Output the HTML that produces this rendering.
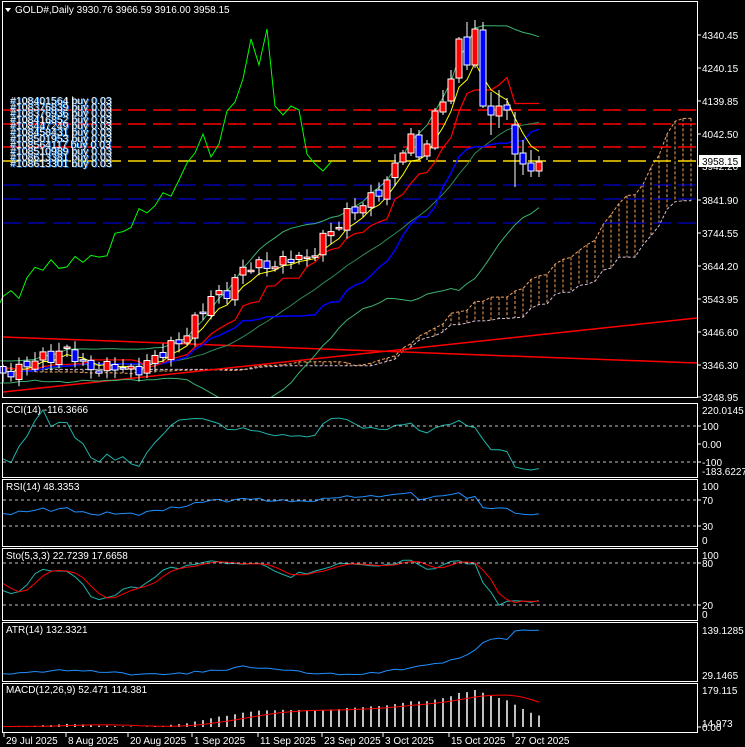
<!DOCTYPE html>
<html><head><meta charset="utf-8">
<style>
html,body{margin:0;padding:0;background:#000;}
body{width:745px;height:747px;overflow:hidden;}
svg{display:block;font-family:"Liberation Sans",sans-serif;}
</style></head>
<body>
<svg id="c" width="745" height="747" xmlns="http://www.w3.org/2000/svg"></svg>
<script>
const S=document.getElementById('c');
let out='';
function add(s){out+=s;}
const K=0.3317, P0=3248.95;
const p2y=p=>397-(p-P0)*K, y2p=y=>P0+(397-y)/K;
const kp=[[-60,372],[-40,365],[-20,378],[-5,368],[0,370],[2,372],[5,355],[8,352],[10,365],[13,368],[16,370],[18,362],[20,355],[22,340],[24,320],[26,300],[28,290],[30,268],[32,268],[34,262],[36,258],[38,262],[40,235],[42,225],[44,210],[46,195],[48,185],[49,168],[50,153]];
function interp(i){for(let k=0;k<kp.length-1;k++){if(i>=kp[k][0]&&i<=kp[k+1][0]){const t=(i-kp[k][0])/(kp[k+1][0]-kp[k][0]);return kp[k][1]+t*(kp[k+1][1]-kp[k][1]);}}return 370;}
const ex={50:[162,153,150,165],51:[153,134,128,156],52:[135,157,130,160],53:[156,144,140,160],54:[148,111,108,150],55:[112,102,90,115],56:[101,79,70,104],57:[78,39,37,83],58:[37,65,22,70],59:[65,29,20,68],60:[30,106,22,108],61:[106,115,92,135],62:[116,106,90,128],63:[105,110,98,120],64:[125,154,112,187],65:[153,164,140,175],66:[163,171,150,177],67:[171,162,156,177]};
const bars=[];let prev=370;
for(let i=-60;i<=67;i++){let o,c,h,l;
 if(ex[i]){[o,c,h,l]=ex[i];}
 else{c=interp(i)+Math.sin(i*2.3)*6+Math.cos(i*1.1)*3;o=prev+Math.sin(i*3.7)*3;
  h=Math.min(o,c)-2-Math.abs(Math.sin(i*5.1))*7;l=Math.max(o,c)+2+Math.abs(Math.cos(i*4.3))*7;}
 prev=c;bars.push({i,o:y2p(o),c:y2p(c),h:y2p(h),l:y2p(l)});}
const N=bars.length, off=60;
const X=i=>3+8*i;
const C=bars.map(b=>b.c),H=bars.map(b=>b.h),L=bars.map(b=>b.l);
function ema(a,n){const k=2/(n+1);let r=[],e=a[0];for(let j=0;j<a.length;j++){e=j?a[j]*k+e*(1-k):a[0];r.push(e);}return r;}
function sma(a,n){return a.map((v,j)=>{let s=0,c=0;for(let q=Math.max(0,j-n+1);q<=j;q++){s+=a[q];c++;}return s/c;});}
function mid(n,j){let hh=-1e9,ll=1e9;for(let q=Math.max(0,j-n+1);q<=j;q++){hh=Math.max(hh,H[q]);ll=Math.min(ll,L[q]);}return (hh+ll)/2;}
const ten=C.map((_,j)=>mid(9,j)),kij=C.map((_,j)=>mid(26,j)),sb=C.map((_,j)=>mid(52,j));
const sa=ten.map((t,j)=>(t+kij[j])/2);
const e5=ema(C,5),m20=sma(C,20);
const sd=C.map((_,j)=>{let m=m20[j],s=0,c=0;for(let q=Math.max(0,j-19);q<=j;q++){s+=(C[q]-m)**2;c++;}return Math.sqrt(s/c);});
function poly(pts,col,w,extra){return `<polyline fill="none" stroke="${col}" stroke-width="${w||1}" ${extra||''} points="${pts.map(p=>p[0].toFixed(1)+','+p[1].toFixed(1)).join(' ')}"/>`;}
function series(a,shift,fn){const r=[];for(let j=0;j<N;j++){const bi=j-off+shift;const x=X(bi);if(x<-10||x>694)continue;r.push([x,fn(a[j])]);}return r;}
let g='';
for(let j=0;j<N;j++){const bi=j-off+26;const x=X(bi);if(x<2||x>692)continue;
 const ya=p2y(sa[j]),yb=p2y(sb[j]);const col=sa[j]>=sb[j]?'#f4a460':'#d8bfd8';
 g+=`<line x1="${x}" y1="${ya}" x2="${x}" y2="${yb}" stroke="${col}" stroke-dasharray="3,2"/>`;}
g+=poly(series(sa,26,p2y),'#f4a460',1,'stroke-dasharray="3,2"');
g+=poly(series(sb,26,p2y),'#d8bfd8',1,'stroke-dasharray="3,2"');
[[110,'#f00'],[124,'#f00'],[147,'#f00'],[161,'#ffd700'],[185,'#00f'],[199,'#00f'],[223,'#00f']].forEach(([y,c])=>{g+=`<line x1="3" y1="${y}" x2="697" y2="${y}" stroke="${c}" stroke-width="${c=='#00f'?1:1.5}" stroke-dasharray="18,7"/>`;});
g+=`<line x1="3" y1="337" x2="697" y2="363" stroke="#f00" stroke-width="1.5"/>`;
g+=`<line x1="3" y1="392" x2="697" y2="318" stroke="#f00" stroke-width="1.5"/>`;
g+=poly(series(m20.map((m,j)=>m+2*sd[j]),0,p2y),'#3cb371');
g+=poly(series(m20.map((m,j)=>m-2*sd[j]),0,p2y),'#3cb371');
g+=poly(series(m20,0,p2y),'#2e8b57');
g+=poly(series(kij,0,p2y),'#0000ff',1.5);
g+=poly(series(ten,0,p2y),'#ff0000',1.2);
g+=poly(series(e5,0,p2y),'#ffff00');
g+=poly(series(C,-26,p2y),'#00ff00');
for(let j=0;j<N;j++){const b=bars[j];const x=X(b.i);if(x<2)continue;
 const yo=p2y(b.o),yc=p2y(b.c);const up=b.c>=b.o;const t=Math.min(yo,yc),hh=Math.max(1.5,Math.abs(yo-yc));
 g+=`<line x1="${x}" y1="${p2y(b.h)}" x2="${x}" y2="${p2y(b.l)}" stroke="#fff"/>`;
 g+=`<rect x="${x-3}" y="${t}" width="6" height="${hh}" fill="${up?'#f00':'#00f'}" stroke="#fff"/>`;}
add(`<svg x="0" y="0" width="697" height="398">${g}</svg>`);
const ids=['#108401564','#108376839','#108376936','#108416852','#108447249','#108458431','#108501953','#108564117','#108510989','#108613381','#108613301'];
ids.forEach((t,k)=>{const y=104+k*6.3;add(`<text x="11" y="${y+0.6}" font-size="10.5" fill="#1e90ff">${t} buy 0.03</text><text x="10" y="${y}" font-size="10.5" fill="#fff">${t} buy 0.03</text>`);});
const vis=j=>X(j-off)>=2&&X(j-off)<=694;
function scaled(a,top,bot,lo,hi,col,w){const idx=[];for(let j=0;j<N;j++)if(vis(j))idx.push(j);
 if(lo===null){lo=Math.min(...idx.map(j=>a[j]));hi=Math.max(...idx.map(j=>a[j]));}
 return poly(idx.map(j=>[X(j-off),bot-(a[j]-lo)/(hi-lo)*(bot-top)]),col,w);}
const tp=C.map((c,j)=>(c+H[j]+L[j])/3),tps=sma(tp,14);
const cci=tp.map((v,j)=>{let md=0,c=0;for(let q=Math.max(0,j-13);q<=j;q++){md+=Math.abs(tp[q]-tps[j]);c++;}md/=c;return md?(v-tps[j])/(0.015*md):0;});
add(scaled(cci,410,470,null,null,'#20b2aa'));
let ag=0,al=0;const rsi=C.map((c,j)=>{if(!j)return 50;const d=c-C[j-1];ag=(ag*13+Math.max(d,0))/14;al=(al*13+Math.max(-d,0))/14;return al?100-100/(1+ag/al):100;});
add(scaled(rsi,486,540,0,100,'#1e90ff'));
const kr=C.map((c,j)=>{let hh=-1e9,ll=1e9;for(let q=Math.max(0,j-4);q<=j;q++){hh=Math.max(hh,H[q]);ll=Math.min(ll,L[q]);}return hh>ll?(c-ll)/(hh-ll)*100:50;});
const sk=sma(kr,3),sdd=sma(sk,3);
add(scaled(sk,555,614,0,100,'#20b2aa'));add(scaled(sdd,555,614,0,100,'#f00'));
const tr=C.map((c,j)=>j?Math.max(H[j]-L[j],Math.abs(H[j]-C[j-1]),Math.abs(L[j]-C[j-1])):H[j]-L[j]);
add(scaled(sma(tr,14),630,675,null,null,'#1e90ff'));
const e12=ema(C,12),e26=ema(C,26),macd=e12.map((v,j)=>v-e26[j]),sig=sma(macd,9);
let mx=0;for(let j=0;j<N;j++)if(vis(j))mx=Math.max(mx,macd[j],sig[j]);
let mb='';for(let j=0;j<N;j++){if(!vis(j))continue;const v=macd[j];const h=v/mx*37;mb+=`<line x1="${X(j-off)}" y1="727" x2="${X(j-off)}" y2="${727-h}" stroke="#c0c0c0" stroke-width="2"/>`;}
add(mb);
add(poly((()=>{const r=[];for(let j=0;j<N;j++)if(vis(j))r.push([X(j-off),727-sig[j]/mx*37]);return r;})(),'#f00'));
[[1,397],[403,477],[479,546],[548,620],[622,681],[683,732]].forEach(([a,b])=>add(`<rect x="2.5" y="${a+0.5}" width="695" height="${b-a}" fill="none" stroke="#fff"/>`));
[426,462,500,526,563,605].forEach(y=>add(`<line x1="3" y1="${y}" x2="697" y2="${y}" stroke="#c0c0c0" stroke-dasharray="3,3"/>`));
function lab(y,t,tick){add(`<text x="702" y="${y+4}" font-size="10" fill="#fff">${t}</text>`);if(tick!==false)add(`<line x1="697" y1="${y}" x2="701" y2="${y}" stroke="#fff"/>`);}
[[35,'4340.45'],[68,'4240.15'],[101,'4139.85'],[134,'4042.50'],[166,'3942.20'],[200,'3841.90'],[233,'3744.55'],[266,'3644.20'],[299,'3543.95'],[332,'3446.60'],[365,'3346.30'],[397,'3248.95']].forEach(a=>lab(a[0],a[1]));
add(`<rect x="699" y="155" width="42" height="12" fill="#fff"/><text x="702" y="165" font-size="10" fill="#000">3958.15</text>`);
[[410,'220.0145',false],[426,'100'],[444,'0.00'],[462,'-100'],[471,'-183.6227',false],[486,'100',false],[500,'70'],[526,'30'],[540,'0',false],[555,'100',false],[563,'80'],[605,'20'],[614,'0',false],[630,'139.1285',false],[675,'29.1465',false],[690,'179.115',false],[723,'14.973',false],[727,'0.00']].forEach(a=>lab(a[0],a[1],a[2]));
[[413,'CCI(14) -116.3666'],[490,'RSI(14) 48.3353'],[559,'Sto(5,3,3) 22.7239 17.6658'],[633,'ATR(14) 132.3321'],[693,'MACD(12,26,9) 52.471 114.381']].forEach(([y,t])=>add(`<text x="6" y="${y}" font-size="10" fill="#fff">${t}</text>`));
add(`<polygon points="5,8 11,8 8,12" fill="#fff"/><text x="15" y="13" font-size="10" fill="#fff">GOLD#,Daily  3930.76 3966.59 3916.00 3958.15</text>`);
[[4,'29 Jul 2025'],[66,'8 Aug 2025'],[128,'20 Aug 2025'],[192,'1 Sep 2025'],[258,'11 Sep 2025'],[322,'23 Sep 2025'],[383,'3 Oct 2025'],[449,'15 Oct 2025'],[513,'27 Oct 2025']].forEach(([x,t])=>add(`<line x1="${x}" y1="733" x2="${x}" y2="737" stroke="#fff"/><text x="${x+2}" y="744" font-size="10" fill="#fff">${t}</text>`));
S.innerHTML=out;
</script>
</body></html>
